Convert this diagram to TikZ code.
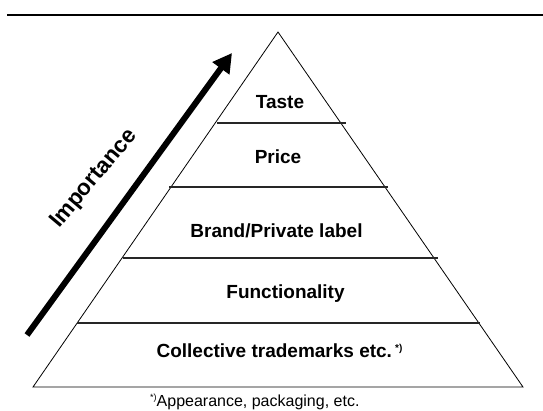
\documentclass[tikz,border=0pt]{standalone}
\usepackage{fontspec}
\setmainfont{Liberation Sans}
\usetikzlibrary{arrows.meta}
\begin{document}
\begin{tikzpicture}[x=1pt,y=-1pt,
  level/.style={font=\fontsize{19}{22}\selectfont\bfseries, anchor=base, inner sep=0pt},
  tier/.style={line width=1.1pt, draw=black!85},
  edge/.style={line width=0.8pt},
  rise/.style={line width=6pt, -{Triangle[length=19pt,width=20pt]}}]
\useasboundingbox (0,0) rectangle (543,410);

% rule across the top
\coordinate (r1) at (7,15);
\coordinate (r2) at (543,15);
\draw[line width=2pt] (r1) -- (r2);

% pyramid outline
\coordinate (apex) at (278,32);
\coordinate (bl) at (33,387);
\coordinate (br) at (523,387);
\draw[edge, line join=miter] (apex) -- (bl) -- (br) -- cycle;

% tier separators
\coordinate (a1) at (217,123); \coordinate (b1) at (346,123);
\coordinate (a2) at (169,187); \coordinate (b2) at (388,187);
\coordinate (a3) at (123,258); \coordinate (b3) at (438,258);
\coordinate (a4) at (77,323);  \coordinate (b4) at (480,323);
\draw[tier] (a1) -- (b1);
\draw[tier] (a2) -- (b2);
\draw[tier] (a3) -- (b3);
\draw[tier] (a4) -- (b4);

% tier labels
\node[level] (taste) at (280,108) {Taste};
\node[level] (price) at (278,163) {Price};
\node[level] (brand) at (276.5,237) {Brand/Private label};
\node[level] (func) at (285.5,298) {Functionality};
\node[level] (coll) at (279.5,357) {Collective trademarks etc.\,\raisebox{6pt}{\fontsize{10}{10}\selectfont *)}};

% footnote
\node[font=\fontsize{16}{18}\selectfont, anchor=base west, inner sep=0pt] (note) at (150,406)
  {\raisebox{6pt}{\fontsize{9}{9}\selectfont *)}Appearance, packaging, etc.};

% importance arrow
\coordinate (tail) at (27,335);
\coordinate (tip) at (232,53);
\draw[rise] (tail) -- (tip);
\node[font=\fontsize{22.5}{26}\selectfont\bfseries, anchor=base west, inner sep=0pt, rotate=50] (imp) at (59,229) {Importance};
\end{tikzpicture}
\end{document}
